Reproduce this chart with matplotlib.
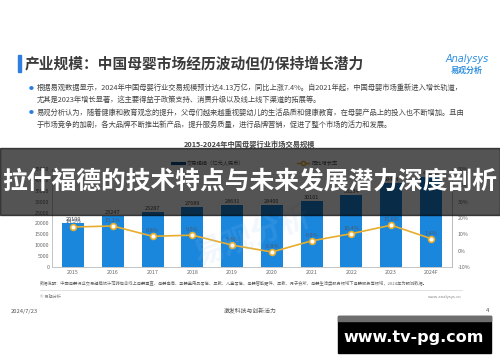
import numpy as np
import matplotlib
matplotlib.use("Agg")
import matplotlib.pyplot as plt
from matplotlib.lines import Line2D
from matplotlib.patches import Rectangle

plt.rcParams['font.family'] = ['Noto Sans CJK SC', 'DejaVu Sans']

# data #
years = ['2015', '2016', '2017', '2018', '2019', '2020', '2021', '2022', '2023', '2024F']
scale = [20199, 23247, 25287, 27689, 28631, 28400, 30101, 33234, 38414, 41257]  # 亿元
growth = [14.5, 15.1, 8.8, 9.5, 3.4, -0.8, 6.0, 10.4, 15.6, 7.4]  # %
growth_lbl = ['14.5%', '15.1%', '8.8%', '9.5%', '3.4%', '-0.8%', '6.0%', '10.4%', '15.6%', '7.4%']
left_ticks = list(range(0, 45001, 5000))
right_ticks = list(range(-10, 51, 10))

W, H = 500, 362
fig = plt.figure(figsize=(W / 100, H / 100), dpi=100)
fig.patch.set_facecolor('white')

def fx(px):
    return px / W

def fy(py):
    return 1 - py / H

blue = '#1a86dc'
gold = '#e8ad2c'

# chart axes #
ax = fig.add_axes([fx(52), fy(267), fx(452) - fx(52), fy(169) - fy(267)])
x = np.arange(len(years))
ax.bar(x, scale, width=0.55, color=blue, zorder=2)
ax.set_xlim(-0.53, len(years) - 0.47)
ax.set_ylim(0, 45000)
ax.set_yticks(left_ticks)
ax.set_yticklabels([str(t) for t in left_ticks])
ax.set_xticks(x)
ax.set_xticklabels(years)
ax.tick_params(axis='both', labelsize=3.8, colors='#666666', length=0, pad=2)
ax.spines['top'].set_visible(False)
for s in ['left', 'bottom', 'right']:
    ax.spines[s].set_color('#bbbbbb')
    ax.spines[s].set_linewidth(0.6)
for xi, v in zip(x, scale):
    ax.text(xi, v + 500, str(v), ha='center', va='bottom', fontsize=4, color='#444444', zorder=3)

ax2 = ax.twinx()
ax2.plot(x, growth, color=gold, lw=1.2, marker='o', ms=4.2, mfc='white', mec=gold, mew=1.2, zorder=4)
ax2.set_ylim(-10, 50)
ax2.set_yticks(right_ticks)
ax2.set_yticklabels([f'{t}%' for t in right_ticks])
ax2.tick_params(axis='y', labelsize=3.8, colors='#666666', length=0, pad=4)
for s in ['top', 'left', 'bottom']:
    ax2.spines[s].set_visible(False)
ax2.spines['right'].set_color('#bbbbbb')
ax2.spines['right'].set_linewidth(0.6)
for xi, g, lb in zip(x, growth, growth_lbl):
    ax2.text(xi, g + 1.8, lb, ha='center', va='bottom', fontsize=4, color='#4a5a6e', zorder=5)

# faint watermark #
fig.text(fx(252), fy(236), '易观分析', fontsize=22, color='#9cc8ef', alpha=0.14,
         ha='center', va='center', rotation=20, fontweight='bold')

# legend #
handles = [Line2D([0], [0], color='#0d4f86', lw=2.2),
           Line2D([0], [0], color=gold, lw=1, marker='o', ms=3, mfc='white', mec=gold)]
ax.legend(handles, ['交易规模（亿元人民币）', '同比增长率'], loc='center',
          bbox_to_anchor=(fx(255), fy(163)), bbox_transform=fig.transFigure,
          ncol=2, frameon=False, fontsize=3.8, columnspacing=10, handlelength=2.2,
          handletextpad=0.5, labelcolor='#555555')

# slide header #
fig.patches.append(Rectangle((fx(18), fy(72)), fx(3), fy(55) - fy(72),
                             transform=fig.transFigure, color='#2f7de1', zorder=3))
fig.text(fx(25), fy(63.5), '产业规模：中国母婴市场经历波动但仍保持增长潜力', fontsize=10.6,
         fontweight='bold', color='#3a3a3a', va='center', ha='left')
fig.text(fx(467), fy(59), 'Analysys', fontsize=7, style='italic', color='#2f8fe0',
         ha='center', va='center', family='DejaVu Sans')
fig.text(fx(467), fy(70.5), '易观分析', fontsize=5.8, fontweight='bold', color='#2f8fe0',
         ha='center', va='center')

bullets = [
    ('根据易观数据显示，2024年中国母婴行业交易规模预计达4.13万亿，同比上涨7.4%。自2021年起，中国母婴市场重新进入增长轨道，',
     '尤其是2023年增长显著，这主要得益于政策支持、消费升级以及线上线下渠道的拓展等。', 88),
    ('易观分析认为，随着健康和教育观念的提升，父母们越来越重视婴幼儿的生活品质和健康教育，在母婴产品上的投入也不断增加。且由',
     '于市场竞争的加剧，各大品牌不断推出新产品，提升服务质量，进行品牌营销，促进了整个市场的活力和发展。', 113),
]
for l1, l2, yy in bullets:
    fig.text(fx(31), fy(yy), '●', fontsize=3.5, color='#2f7de1', ha='center', va='center')
    fig.text(fx(37), fy(yy), l1, fontsize=5.25, color='#444444', ha='left', va='center')
    fig.text(fx(37), fy(yy + 11.5), l2, fontsize=5.25, color='#444444', ha='left', va='center')

fig.text(fx(250), fy(144.5), '2015-2024年中国母婴行业市场交易规模', fontsize=5.2, fontweight='bold',
         color='#444444', ha='center', va='center')

# footer #
fig.text(fx(40), fy(283.5), '数据说明：中国母婴行业交易规模统计范畴包含线上母婴垂直、母婴电商、孕婴童用品零售、早教、'
         '儿童零售、母婴智能硬件、早教、月子会所、母婴生活类服务领域下母婴服务等领域，2024年为预测数据。',
         fontsize=3.05, color='#666666', ha='left', va='center')
fig.lines.append(Line2D([fx(40), fx(462)], [fy(290), fy(290)], transform=fig.transFigure,
                        color='#dddddd', lw=0.6))
fig.text(fx(40), fy(297), '© 易观分析', fontsize=3, color='#888888', ha='left', va='center')
fig.text(fx(462), fy(297), 'www.analysys.cn', fontsize=3, color='#888888', ha='right', va='center')
fig.text(fx(11), fy(311), '2024/7/23', fontsize=4.2, color='#555555', ha='left', va='center')
fig.text(fx(250), fy(310), '激发科技与创新活力', fontsize=4.2, color='#555555', ha='center', va='center')
fig.text(fx(489), fy(311), '4', fontsize=4.2, color='#555555', ha='right', va='center')

# overlay banner #
fig.patches.append(Rectangle((0, fy(215)), 1, fy(148) - fy(215), transform=fig.transFigure,
                             color='black', alpha=0.67, zorder=10))
fig.text(fx(250), fy(182), '拉什福德的技术特点与未来发展潜力深度剖析', fontsize=17.8, fontweight='bold',
         color='white', ha='center', va='center', zorder=11)

# site box #
fig.patches.append(Rectangle((fx(338), fy(353)), fx(491) - fx(338), fy(316) - fy(353),
                             transform=fig.transFigure, color='black', zorder=10))
fig.patches.append(Rectangle((fx(338), fy(321)), fx(491) - fx(338), fy(316) - fy(321),
                             transform=fig.transFigure, color='#6e6e6e', zorder=11))
fig.text(fx(414), fy(337.5), 'www.tv-pg.com', fontsize=11.5, fontweight='bold', color='white',
         ha='center', va='center', family='DejaVu Sans', zorder=12)

fig.savefig('out.png', dpi=100)
